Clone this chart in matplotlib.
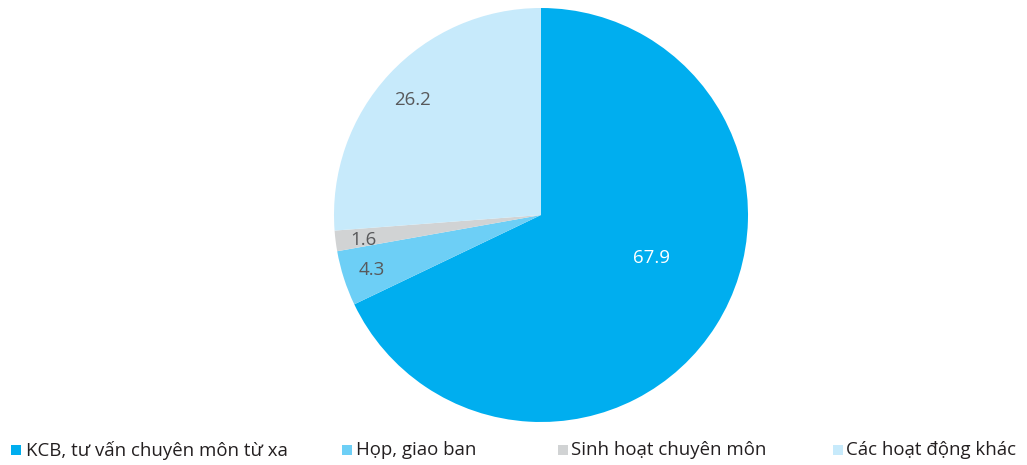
import matplotlib
matplotlib.use("Agg")
import matplotlib.pyplot as plt
from matplotlib.patches import Rectangle

categories = ["KCB, tư vấn chuyên môn từ xa", "Họp, giao ban", "Sinh hoạt chuyên môn", "Các hoạt động khác"]
values = [67.9, 4.3, 1.6, 26.2]
value_labels = ["67.9", "4.3", "1.6", "26.2"]
colors = ["#00AEEF", "#6DCFF6", "#D1D3D4", "#C7EAFB"]
label_colors = ["white", "#58595B", "#58595B", "#58595B"]
# label positions relative to centre, in radius units
label_pos = [(0.536, -0.208), (-0.82, -0.266), (-0.86, -0.121), (-0.623, 0.556)]
legend_sq_x = [11, 342, 558, 833]
legend_tx_x = [26, 356, 571, 846]

plt.rcParams['font.family'] = ['Open Sans', 'DejaVu Sans']
W, H = 1027, 465
fig = plt.figure(figsize=(W/100, H/100), dpi=100)
cx, cy, r = 541, 215, 207
ax = fig.add_axes([(cx - r)/W, (H - cy - r)/H, 2*r/W, 2*r/H])
ax.pie(values, colors=colors, startangle=90, counterclock=False,
       wedgeprops=dict(linewidth=0), radius=1)
ax.set_xlim(-1, 1); ax.set_ylim(-1, 1)
ax.set_aspect('equal')
ax.axis('off')
for (x, y), t, c in zip(label_pos, value_labels, label_colors):
    ax.text(x, y, t, ha='center', va='center', fontsize=13.5, color=c)

for sx, tx, lab, col in zip(legend_sq_x, legend_tx_x, categories, colors):
    fig.patches.append(Rectangle((sx/W, (H-455)/H), 10/W, 10/H, transform=fig.transFigure,
                                 facecolor=col, edgecolor='none'))
    fig.text(tx/W, (H-450)/H, lab, ha='left', va='center', fontsize=13.4, color='#231F20')

fig.savefig("out.png", dpi=100)
